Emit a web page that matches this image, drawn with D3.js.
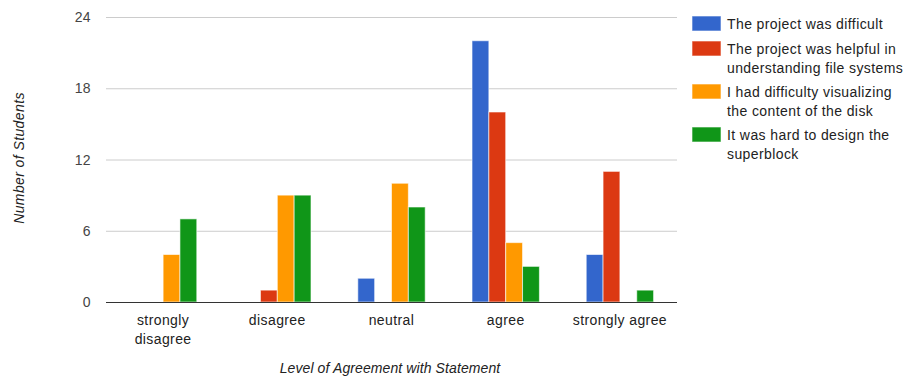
<!DOCTYPE html>
<html>
<head>
<meta charset="utf-8">
<script src="https://cdn.jsdelivr.net/npm/d3@7"></script>
<style>
  body { margin: 0; background: #fff; }
  svg text { font-family: "Liberation Sans", Arial, sans-serif; font-size: 14px; letter-spacing: 0.4px; }
</style>
</head>
<body>
<svg id="chart" width="905" height="376"></svg>
<script>
// Survey responses per agreement level
const categories = [["strongly", "disagree"], ["disagree"], ["neutral"], ["agree"], ["strongly agree"]];
const seriesNames = [
  ["The project was difficult"],
  ["The project was helpful in", "understanding file systems"],
  ["I had difficulty visualizing", "the content of the disk"],
  ["It was hard to design the", "superblock"]
];
const projectDifficult = [0, 0, 2, 22, 4];
const projectHelpful = [0, 1, 0, 16, 11];
const hardToVisualize = [4, 9, 10, 5, 0];
const hardSuperblock = [7, 9, 8, 3, 1];
const yTicks = [0, 6, 12, 18, 24];
const colors = ["#3366cc", "#dc3912", "#ff9900", "#109618"];

const series = [projectDifficult, projectHelpful, hardToVisualize, hardSuperblock];

const svg = d3.select("#chart");
const plot = { left: 106, right: 677, top: 17, bottom: 302 };

const x = d3.scaleBand().domain(d3.range(categories.length))
  .range([plot.left, plot.right]).paddingInner(0.41).paddingOuter(0.205);
const xs = d3.scaleBand().domain(d3.range(series.length)).range([0, x.bandwidth()]);
const y = d3.scaleLinear().domain([0, 24]).range([plot.bottom, plot.top]);

// gridlines
svg.append("g").selectAll("line").data(yTicks.filter(t => t !== 0)).join("line")
  .attr("x1", plot.left).attr("x2", plot.right)
  .attr("y1", d => y(d) + 0.5).attr("y2", d => y(d) + 0.5)
  .attr("stroke", "#cccccc");

// y tick labels
svg.append("g").selectAll("text").data(yTicks).join("text")
  .attr("x", 91).attr("y", d => y(d) + 5)
  .attr("text-anchor", "end").attr("fill", "#444")
  .text(d => d);

// bars
const groups = svg.append("g").selectAll("g").data(series).join("g")
  .attr("fill", (d, i) => colors[i]);
groups.selectAll("rect").data((d, i) => d.map((v, c) => ({ v, c, s: i })).filter(o => o.v > 0)).join("rect")
  .attr("x", d => x(d.c) + xs(d.s))
  .attr("y", d => y(d.v))
  .attr("width", xs.bandwidth())
  .attr("height", d => y(0) - y(d.v))
  .attr("stroke", "#ffffff").attr("stroke-width", 1).attr("stroke-opacity", 0.6);

// baseline
svg.append("line").attr("x1", plot.left).attr("x2", plot.right)
  .attr("y1", plot.bottom + 0.5).attr("y2", plot.bottom + 0.5)
  .attr("stroke", "#333333");

// category labels
const catG = svg.append("g").selectAll("text").data(categories).join("text")
  .attr("x", (d, i) => x(i) + x.bandwidth() / 2)
  .attr("y", 325).attr("text-anchor", "middle")
  .attr("fill", "#222");
catG.selectAll("tspan").data(d => d).join("tspan")
  .attr("x", function () { return d3.select(this.parentNode).attr("x"); })
  .attr("dy", (d, i) => i === 0 ? 0 : 19)
  .text(d => d);

// axis titles
svg.append("text").attr("x", 390).attr("y", 373).attr("text-anchor", "middle")
  .attr("font-style", "italic").attr("fill", "#222")
  .style("letter-spacing", "0.1px")
  .text("Level of Agreement with Statement");
svg.append("text").attr("transform", "translate(24,158) rotate(-90)")
  .attr("text-anchor", "middle").attr("font-style", "italic").attr("fill", "#222")
  .text("Number of Students");

// legend
const legendTops = [16, 41, 84, 127];
const leg = svg.append("g").selectAll("g").data(seriesNames).join("g")
  .attr("transform", (d, i) => `translate(692,${legendTops[i]})`);
leg.append("rect").attr("width", 29).attr("height", 15)
  .attr("fill", (d, i) => colors[i]).attr("stroke", "#fff").attr("stroke-opacity", 0.6);
leg.append("text").attr("x", 35).attr("y", 12.5)
  .attr("fill", "#222")
  .selectAll("tspan").data(d => d).join("tspan")
  .attr("x", 35).attr("dy", (d, i) => i === 0 ? 0 : 19)
  .text(d => d);
</script>
</body>
</html>
